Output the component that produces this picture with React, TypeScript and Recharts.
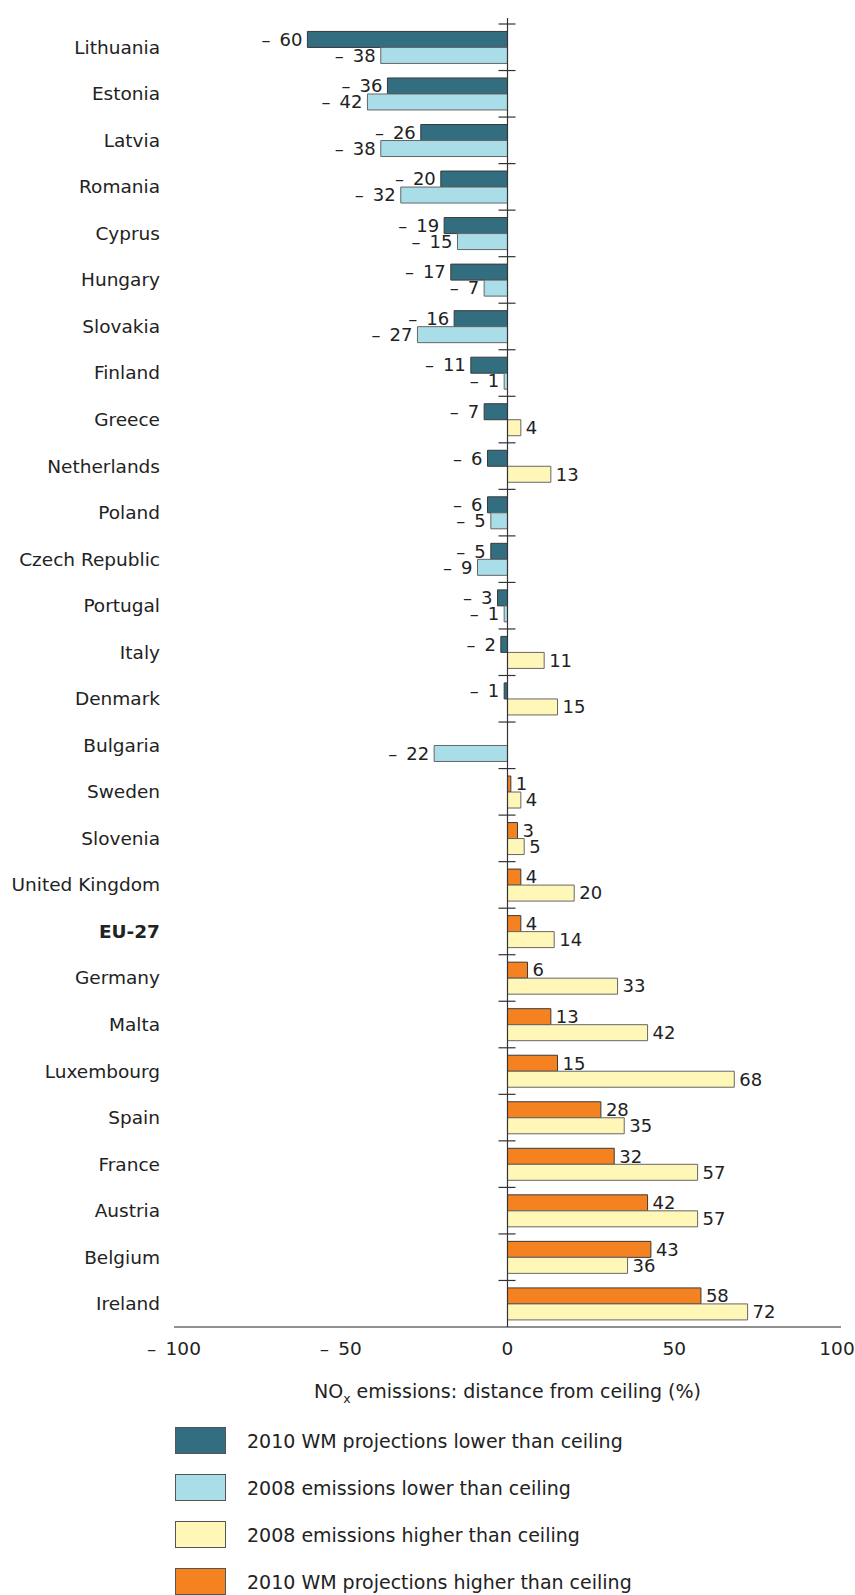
import React from 'react'
import { BarChart, Bar, XAxis, YAxis, Cell, LabelList, ReferenceLine } from 'recharts'

const countries = [
  'Lithuania', 'Estonia', 'Latvia', 'Romania', 'Cyprus', 'Hungary', 'Slovakia', 'Finland',
  'Greece', 'Netherlands', 'Poland', 'Czech Republic', 'Portugal', 'Italy', 'Denmark', 'Bulgaria',
  'Sweden', 'Slovenia', 'United Kingdom', 'EU-27', 'Germany', 'Malta', 'Luxembourg', 'Spain',
  'France', 'Austria', 'Belgium', 'Ireland',
]

const wmProjection2010 = [
  -60, -36, -26, -20, -19, -17, -16, -11, -7, -6, -6, -5, -3, -2, -1, 0,
  1, 3, 4, 4, 6, 13, 15, 28, 32, 42, 43, 58,
]

const emissions2008 = [
  -38, -42, -38, -32, -15, -7, -27, -1, 4, 13, -5, -9, -1, 11, 15, -22,
  4, 5, 20, 14, 33, 42, 68, 35, 57, 57, 36, 72,
]

const xTicks = [-100, -50, 0, 50, 100]

const legendLabels = [
  '2010 WM projections lower than ceiling',
  '2008 emissions lower than ceiling',
  '2008 emissions higher than ceiling',
  '2010 WM projections higher than ceiling',
]

const TEAL = '#326e80'
const LIGHT_BLUE = '#a9dde8'
const YELLOW = '#fff7b8'
const ORANGE = '#f58220'
const legendColors = [TEAL, LIGHT_BLUE, YELLOW, ORANGE]

const FONT = '"DejaVu Sans", Verdana, sans-serif'
const TEXT = '#222'
const CHART_W = 847

const data = countries.map((country, i) => ({
  country,
  wm: wmProjection2010[i],
  em: emissions2008[i],
}))

// en dash + en space, like the original "– 60"
const fmt = (v: number) => (v < 0 ? `\u2013\u2002${Math.abs(v)}` : `${v}`)

function ValueLabel(props: any) {
  const x = Number(props.x)
  const y = Number(props.y)
  const w = Number(props.width)
  const h = Number(props.height)
  const v = Number(props.value)
  const left = Math.min(x, x + w)
  const right = Math.max(x, x + w)
  const neg = v < 0
  return (
    <text
      x={neg ? left - 5 : right + 5}
      y={y + h / 2}
      dy="0.35em"
      textAnchor={neg ? 'end' : 'start'}
      fontSize={18}
      fontFamily={FONT}
      fill={TEXT}
    >
      {fmt(v)}
    </text>
  )
}

function CountryTick(props: any) {
  const { x, y, payload } = props
  return (
    <text
      x={x}
      y={y}
      dy="0.35em"
      textAnchor="end"
      fontSize={18.5}
      fontFamily={FONT}
      fontWeight={payload.value === 'EU-27' ? 'bold' : 'normal'}
      fill={TEXT}
    >
      {payload.value}
    </text>
  )
}

function ValueTick(props: any) {
  const { x, y, payload } = props
  // keep the last label inside the page edge
  const cx = Math.min(Number(x), CHART_W - 18)
  return (
    <text x={cx} y={y} dy="0.71em" textAnchor="middle" fontSize={18.5} fontFamily={FONT} fill={TEXT}>
      {fmt(payload.value)}
    </text>
  )
}

function ZeroAxis(props: any) {
  const x = Number(props.x1)
  const y1 = Number(props.y1)
  const y2 = Number(props.y2)
  const top = Math.min(y1, y2)
  const bottom = Math.max(y1, y2)
  const step = (bottom - top) / countries.length
  return (
    <g>
      <line x1={x} x2={x} y1={top - 6} y2={bottom} stroke="#333" strokeWidth={1.2} />
      {countries.map((c, i) => (
        <line key={c} x1={x - 9} x2={x + 8} y1={top + i * step} y2={top + i * step} stroke="#333" strokeWidth={1.2} />
      ))}
    </g>
  )
}

function AxisTitle(props: any) {
  const vb = props.viewBox || {}
  const cx = Number(vb.x) + Number(vb.width) / 2
  const cy = Number(vb.y) + 71
  return (
    <text x={cx} y={cy} textAnchor="middle" fontSize={19} fontFamily={FONT} fill={TEXT}>
      NO
      <tspan fontSize={12.5} dy={5}>x</tspan>
      <tspan dy={-5}> emissions: distance from ceiling (%)</tspan>
    </text>
  )
}

export default function App() {
  return (
    <>
      <style>{'html, body { margin: 0; overflow: hidden; }'}</style>
      <div
        style={{
          position: 'relative',
          width: CHART_W,
          height: 1587,
          marginLeft: 8,
          marginTop: 8,
          fontFamily: FONT,
        }}
      >
        <BarChart
          width={CHART_W}
          height={1402}
          data={data}
          layout="vertical"
          margin={{ top: 16, right: 14, bottom: 23, left: 0 }}
          barCategoryGap="16%"
          barGap={0}
        >
          <XAxis
            type="number"
            domain={[-100, 100]}
            ticks={xTicks}
            axisLine={{ stroke: '#222', strokeWidth: 1.2 }}
            tickLine={false}
            tickSize={6}
            tickMargin={9}
            height={60}
            tick={<ValueTick />}
            label={<AxisTitle />}
          />
          <YAxis
            type="category"
            dataKey="country"
            width={166}
            axisLine={false}
            tickLine={false}
            tickSize={6}
            tickMargin={8}
            interval={0}
            tick={<CountryTick />}
          />
          <Bar dataKey="wm" isAnimationActive={false} stroke="#3a3a3a" strokeWidth={1}>
            {wmProjection2010.map((v, i) => (
              <Cell key={i} fill={v < 0 ? TEAL : ORANGE} />
            ))}
            <LabelList dataKey="wm" content={<ValueLabel />} />
          </Bar>
          <Bar dataKey="em" isAnimationActive={false} stroke="#666" strokeWidth={1}>
            {emissions2008.map((v, i) => (
              <Cell key={i} fill={v < 0 ? LIGHT_BLUE : YELLOW} />
            ))}
            <LabelList dataKey="em" content={<ValueLabel />} />
          </Bar>
          <ReferenceLine x={0} shape={<ZeroAxis />} />
        </BarChart>
        {legendLabels.map((label, i) => (
          <div
            key={label}
            style={{ position: 'absolute', left: 167, top: 1419 + i * 47, display: 'flex', alignItems: 'center' }}
          >
            <div
              style={{
                width: 51,
                height: 27,
                background: legendColors[i],
                border: '1px solid #555',
                boxSizing: 'border-box',
              }}
            />
            <span style={{ marginLeft: 21, fontSize: 19, color: TEXT }}>{label}</span>
          </div>
        ))}
      </div>
    </>
  )
}
